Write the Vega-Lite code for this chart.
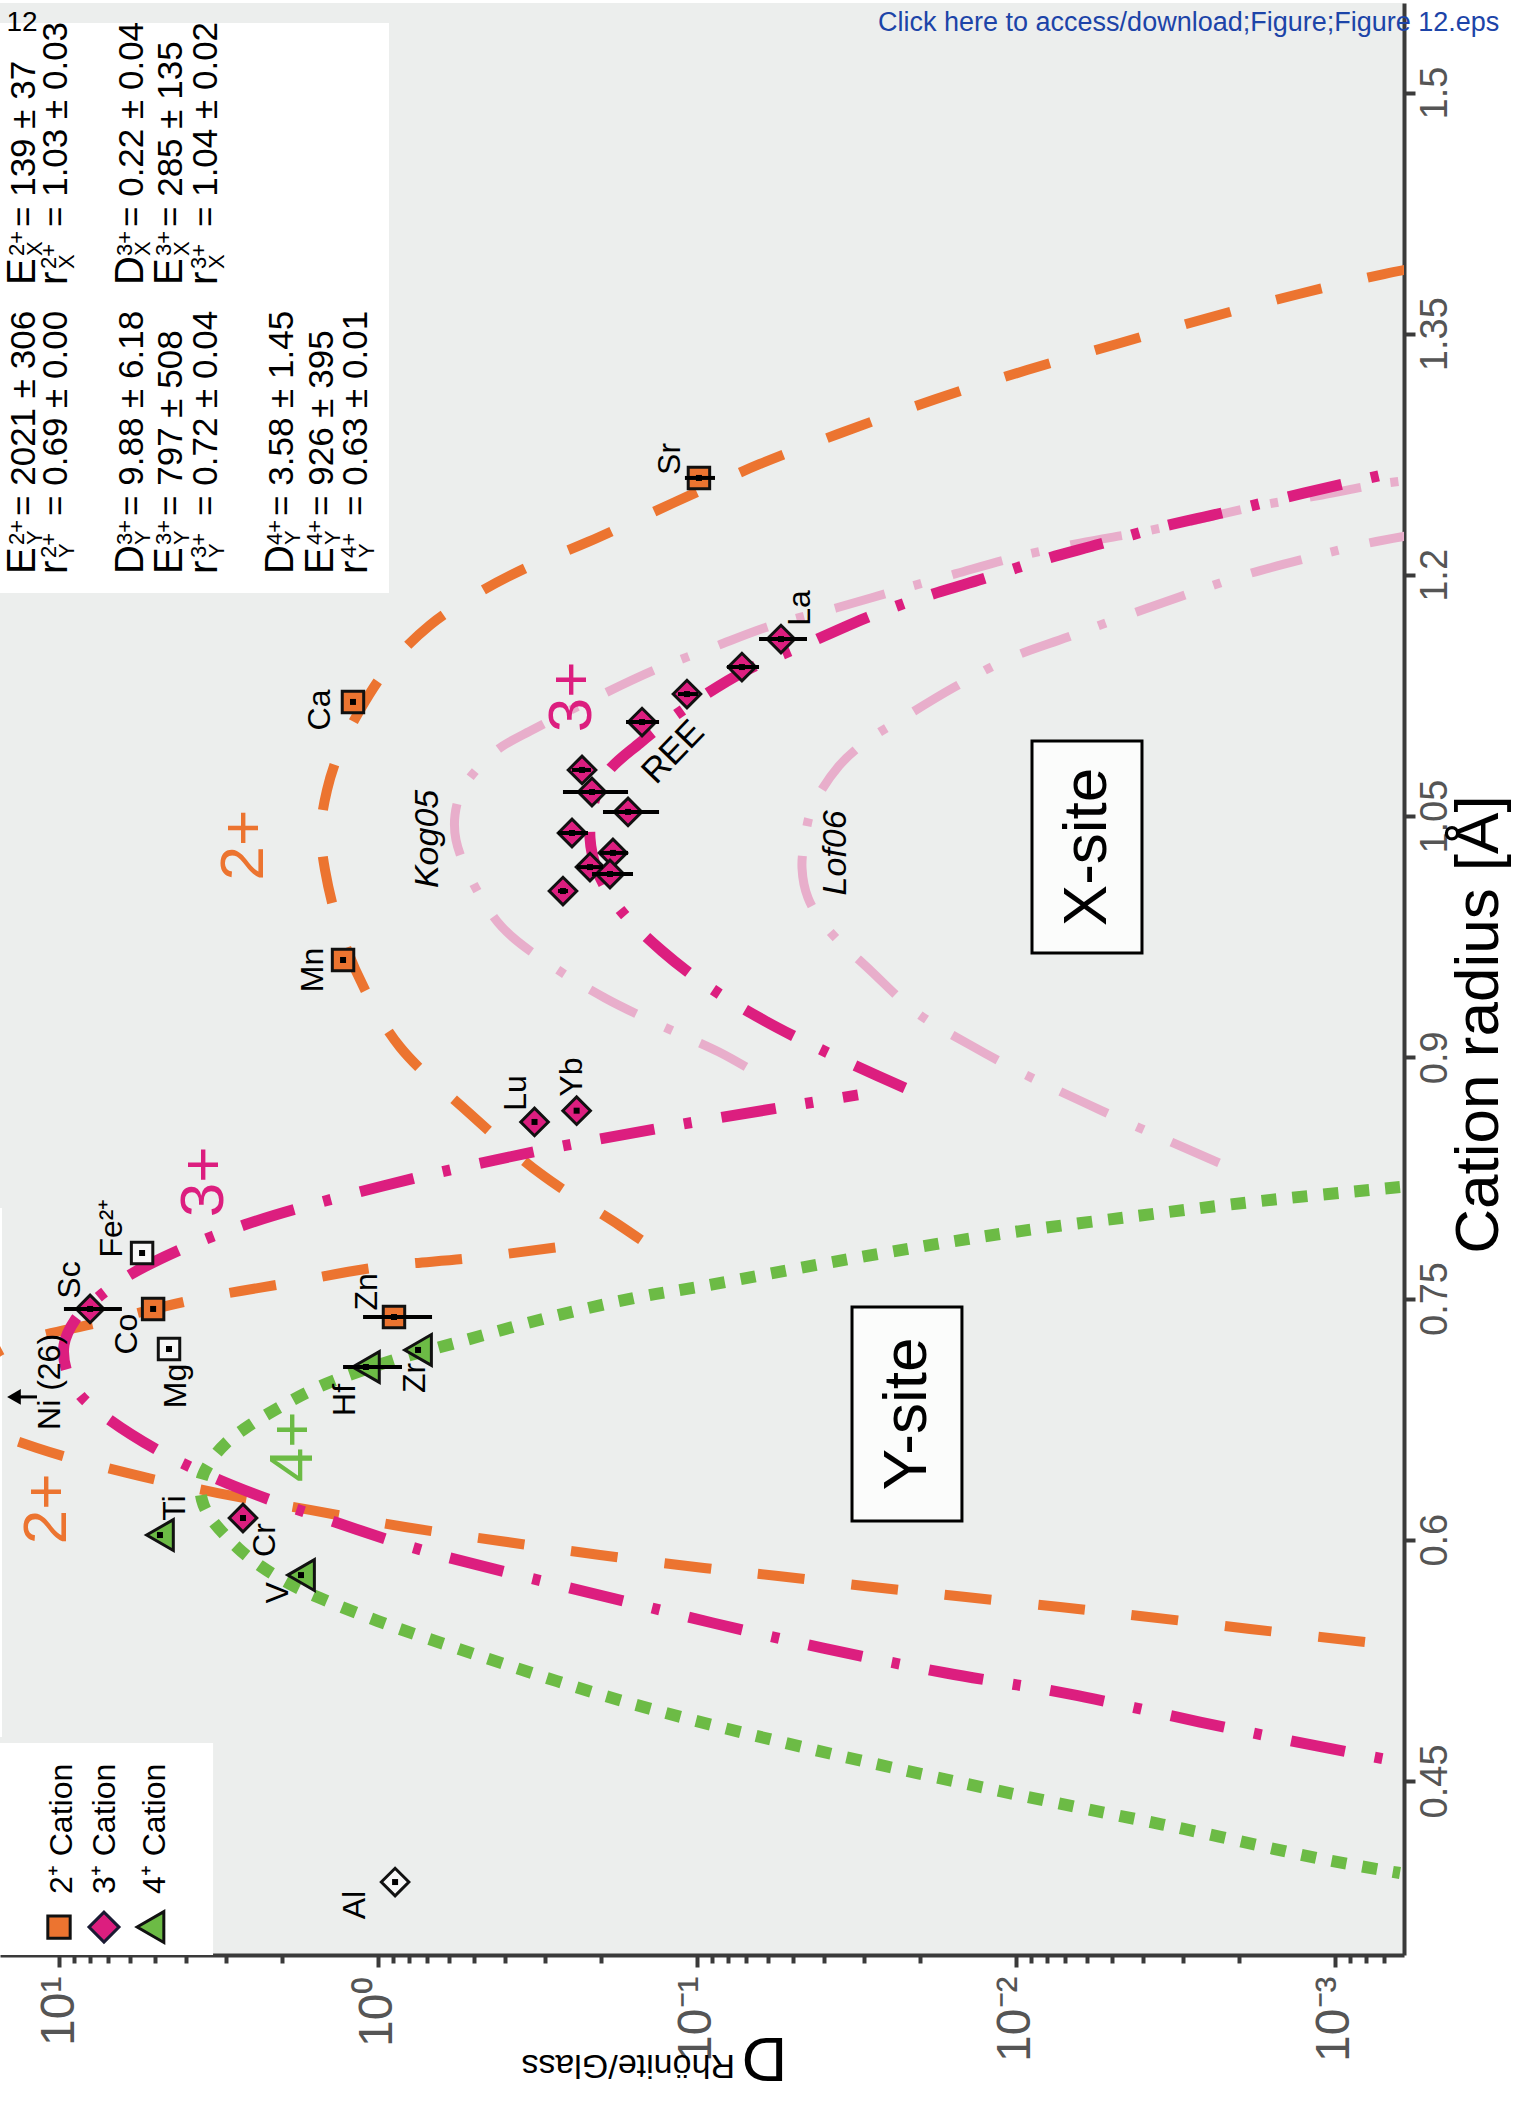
{
"$schema":"https://vega.github.io/schema/vega-lite/v6.json",
"width":1404,"height":1952,
"autosize":{"type":"none"},
"padding":{"left":0,"top":3,"right":122,"bottom":157},
"background":"#ffffff",
"config":{"view":{"fill":"#ECEEED","stroke":null},"font":"Liberation Sans"},
"datasets":{
"boxes":[{"D":20,"D2":0.9237,"r":1.1887,"r2":1.5432},{"D":20,"D2":3.289,"r":0.30,"r2":0.4736},{"D":20,"D2":15.09,"r":0.4773,"r2":0.8063}],
"curves":[
{"s":"2Y","i":0,"D":0.2014,"r":0.7864},{"s":"2Y","i":1,"D":0.2574,"r":0.7827},{"s":"2Y","i":2,"D":0.5074,"r":0.7752},{"s":"2Y","i":3,"D":0.9928,"r":0.7696},{"s":"2Y","i":4,"D":1.929,"r":0.7596},{"s":"2Y","i":5,"D":3.801,"r":0.7491},{"s":"2Y","i":6,"D":7.333,"r":0.7354},{"s":"2Y","i":7,"D":13.54,"r":0.7223},{"s":"2Y","i":8,"D":18.34,"r":0.708},{"s":"2Y","i":9,"D":25.37,"r":0.69},{"s":"2Y","i":10,"D":18.34,"r":0.672},{"s":"2Y","i":11,"D":11.72,"r":0.657},{"s":"2Y","i":12,"D":6.121,"r":0.6415},{"s":"2Y","i":13,"D":3.174,"r":0.629},{"s":"2Y","i":14,"D":1.634,"r":0.6185},{"s":"2Y","i":15,"D":0.823,"r":0.6079},{"s":"2Y","i":16,"D":0.4145,"r":0.5992},{"s":"2Y","i":17,"D":0.2014,"r":0.5905},{"s":"2Y","i":18,"D":0.09508,"r":0.5824},{"s":"2Y","i":19,"D":0.05573,"r":0.5774},{"s":"2Y","i":20,"D":0.02807,"r":0.5706},{"s":"2Y","i":21,"D":0.01435,"r":0.5644},{"s":"2Y","i":22,"D":0.00728,"r":0.5581},{"s":"2Y","i":23,"D":0.004087,"r":0.5526},{"s":"2Y","i":24,"D":0.001847,"r":0.5445},{"s":"2Y","i":25,"D":0.0008054,"r":0.5364},
{"s":"2X","i":0,"D":0.1498,"r":0.7864},{"s":"2X","i":1,"D":0.1756,"r":0.7957},{"s":"2X","i":2,"D":0.3083,"r":0.8274},{"s":"2X","i":3,"D":0.5222,"r":0.866},{"s":"2X","i":4,"D":0.8531,"r":0.9064},{"s":"2X","i":5,"D":1.098,"r":0.9419},{"s":"2X","i":6,"D":1.316,"r":0.9792},{"s":"2X","i":7,"D":1.466,"r":1.0165},{"s":"2X","i":8,"D":1.509,"r":1.0414},{"s":"2X","i":9,"D":1.445,"r":1.0662},{"s":"2X","i":10,"D":1.316,"r":1.0911},{"s":"2X","i":11,"D":1.139,"r":1.116},{"s":"2X","i":12,"D":0.9171,"r":1.144},{"s":"2X","i":13,"D":0.6871,"r":1.1688},{"s":"2X","i":14,"D":0.4789,"r":1.1894},{"s":"2X","i":15,"D":0.3339,"r":1.2055},{"s":"2X","i":16,"D":0.2196,"r":1.2205},{"s":"2X","i":17,"D":0.1189,"r":1.2447},{"s":"2X","i":18,"D":0.06346,"r":1.269},{"s":"2X","i":19,"D":0.03614,"r":1.2876},{"s":"2X","i":20,"D":0.01781,"r":1.3094},{"s":"2X","i":21,"D":0.009237,"r":1.3274},{"s":"2X","i":22,"D":0.004826,"r":1.3436},{"s":"2X","i":23,"D":0.002501,"r":1.3598},{"s":"2X","i":24,"D":0.001297,"r":1.3747},{"s":"2X","i":25,"D":0.0007021,"r":1.3871},{"s":"2X","i":26,"D":0.0005038,"r":1.3927},
{"s":"3Y","i":0,"D":0.03128,"r":0.8766},{"s":"3Y","i":1,"D":0.04894,"r":0.8703},{"s":"3Y","i":2,"D":0.1198,"r":0.8573},{"s":"3Y","i":3,"D":0.2932,"r":0.843},{"s":"3Y","i":4,"D":0.7175,"r":0.8262},{"s":"3Y","i":5,"D":1.718,"r":0.8069},{"s":"3Y","i":6,"D":2.631,"r":0.7957},{"s":"3Y","i":7,"D":4.056,"r":0.7814},{"s":"3Y","i":8,"D":6.077,"r":0.764},{"s":"3Y","i":9,"D":7.711,"r":0.7491},{"s":"3Y","i":10,"D":8.91,"r":0.7366},{"s":"3Y","i":11,"D":9.645,"r":0.7211},{"s":"3Y","i":12,"D":9.438,"r":0.7043},{"s":"3Y","i":13,"D":8.597,"r":0.69},{"s":"3Y","i":14,"D":7.072,"r":0.6757},{"s":"3Y","i":15,"D":4.789,"r":0.6545},{"s":"3Y","i":16,"D":3.197,"r":0.6378},{"s":"3Y","i":17,"D":2.088,"r":0.6234},{"s":"3Y","i":18,"D":1.364,"r":0.611},{"s":"3Y","i":19,"D":0.8845,"r":0.5986},{"s":"3Y","i":20,"D":0.6438,"r":0.5905},{"s":"3Y","i":21,"D":0.2889,"r":0.5731},{"s":"3Y","i":22,"D":0.151,"r":0.5594},{"s":"3Y","i":23,"D":0.0891,"r":0.5482},{"s":"3Y","i":24,"D":0.04055,"r":0.5327},{"s":"3Y","i":25,"D":0.01658,"r":0.5171},{"s":"3Y","i":26,"D":0.006773,"r":0.504},{"s":"3Y","i":27,"D":0.002649,"r":0.4866},{"s":"3Y","i":28,"D":0.001099,"r":0.4711},{"s":"3Y","i":29,"D":0.0006254,"r":0.4618},
{"s":"3X","i":0,"D":0.02228,"r":0.8809},{"s":"3X","i":1,"D":0.02707,"r":0.8884},{"s":"3X","i":2,"D":0.04055,"r":0.9045},{"s":"3X","i":3,"D":0.06118,"r":0.9226},{"s":"3X","i":4,"D":0.08974,"r":0.9425},{"s":"3X","i":5,"D":0.1287,"r":0.9661},{"s":"3X","i":6,"D":0.1768,"r":0.9935},{"s":"3X","i":7,"D":0.2058,"r":1.0165},{"s":"3X","i":8,"D":0.2165,"r":1.0364},{"s":"3X","i":9,"D":0.2118,"r":1.0569},{"s":"3X","i":10,"D":0.1915,"r":1.0768},{"s":"3X","i":11,"D":0.151,"r":1.0955},{"s":"3X","i":12,"D":0.1052,"r":1.1191},{"s":"3X","i":13,"D":0.07073,"r":1.1402},{"s":"3X","i":14,"D":0.04686,"r":1.1558},{"s":"3X","i":15,"D":0.0291,"r":1.1738},{"s":"3X","i":16,"D":0.01999,"r":1.1856},{"s":"3X","i":17,"D":0.01306,"r":1.1968},{"s":"3X","i":18,"D":0.008409,"r":1.2089},{"s":"3X","i":19,"D":0.005453,"r":1.2192},{"s":"3X","i":20,"D":0.003512,"r":1.2298},{"s":"3X","i":21,"D":0.002261,"r":1.2385},{"s":"3X","i":22,"D":0.001455,"r":1.2478},{"s":"3X","i":23,"D":0.0009439,"r":1.2565},{"s":"3X","i":24,"D":0.0005038,"r":1.269},
{"s":"4Y","i":0,"D":0.0006254,"r":0.8193},{"s":"4Y","i":1,"D":0.001718,"r":0.8106},{"s":"4Y","i":2,"D":0.004175,"r":0.8013},{"s":"4Y","i":3,"D":0.01122,"r":0.7901},{"s":"4Y","i":4,"D":0.03196,"r":0.7752},{"s":"4Y","i":5,"D":0.09508,"r":0.7578},{"s":"4Y","i":6,"D":0.152,"r":0.7509},{"s":"4Y","i":7,"D":0.2953,"r":0.7379},{"s":"4Y","i":8,"D":0.5736,"r":0.7223},{"s":"4Y","i":9,"D":0.891,"r":0.7118},{"s":"4Y","i":10,"D":1.335,"r":0.6999},{"s":"4Y","i":11,"D":1.657,"r":0.6919},{"s":"4Y","i":12,"D":2.029,"r":0.6825},{"s":"4Y","i":13,"D":2.519,"r":0.6713},{"s":"4Y","i":14,"D":2.995,"r":0.6601},{"s":"4Y","i":15,"D":3.363,"r":0.6483},{"s":"4Y","i":16,"D":3.588,"r":0.6359},{"s":"4Y","i":17,"D":3.562,"r":0.6247},{"s":"4Y","i":18,"D":3.363,"r":0.6141},{"s":"4Y","i":19,"D":2.748,"r":0.5948},{"s":"4Y","i":20,"D":2.31,"r":0.583},{"s":"4Y","i":21,"D":1.888,"r":0.5725},{"s":"4Y","i":22,"D":1.52,"r":0.5637},{"s":"4Y","i":23,"D":1.0,"r":0.5494},{"s":"4Y","i":24,"D":0.6484,"r":0.5364},{"s":"4Y","i":25,"D":0.1756,"r":0.5003},{"s":"4Y","i":26,"D":0.04391,"r":0.4698},{"s":"4Y","i":27,"D":0.009175,"r":0.44},{"s":"4Y","i":28,"D":0.002974,"r":0.4201},{"s":"4Y","i":29,"D":0.001099,"r":0.4014},{"s":"4Y","i":30,"D":0.0006254,"r":0.3927},
{"s":"Kog05","i":0,"D":0.07022,"r":0.894},{"s":"Kog05","i":1,"D":0.08531,"r":0.9033},{"s":"Kog05","i":2,"D":0.1287,"r":0.9195},{"s":"Kog05","i":3,"D":0.1943,"r":0.9369},{"s":"Kog05","i":4,"D":0.2848,"r":0.9568},{"s":"Kog05","i":5,"D":0.4086,"r":0.981},{"s":"Kog05","i":6,"D":0.5147,"r":1.0121},{"s":"Kog05","i":7,"D":0.5694,"r":1.0351},{"s":"Kog05","i":8,"D":0.5736,"r":1.0507},{"s":"Kog05","i":9,"D":0.5454,"r":1.0662},{"s":"Kog05","i":10,"D":0.4859,"r":1.0799},{"s":"Kog05","i":11,"D":0.4145,"r":1.0924},{"s":"Kog05","i":12,"D":0.3243,"r":1.1042},{"s":"Kog05","i":13,"D":0.2028,"r":1.1247},{"s":"Kog05","i":14,"D":0.1335,"r":1.1415},{"s":"Kog05","i":15,"D":0.08846,"r":1.1552},{"s":"Kog05","i":16,"D":0.05778,"r":1.1688},{"s":"Kog05","i":17,"D":0.03666,"r":1.1794},{"s":"Kog05","i":18,"D":0.02394,"r":1.19},{"s":"Kog05","i":19,"D":0.01553,"r":1.2006},{"s":"Kog05","i":20,"D":0.01,"r":1.2111},{"s":"Kog05","i":21,"D":0.0063,"r":1.2198},{"s":"Kog05","i":22,"D":0.003885,"r":1.2273},{"s":"Kog05","i":23,"D":0.002556,"r":1.2354},{"s":"Kog05","i":24,"D":0.001681,"r":1.2435},{"s":"Kog05","i":25,"D":0.001099,"r":1.2497},{"s":"Kog05","i":26,"D":0.0007226,"r":1.2565},{"s":"Kog05","i":27,"D":0.0005038,"r":1.2603},
{"s":"Lof06","i":0,"D":0.00231,"r":0.8343},{"s":"Lof06","i":1,"D":0.004087,"r":0.856},{"s":"Lof06","i":2,"D":0.006166,"r":0.8722},{"s":"Lof06","i":3,"D":0.009305,"r":0.889},{"s":"Lof06","i":4,"D":0.01394,"r":0.9077},{"s":"Lof06","i":5,"D":0.02043,"r":0.9276},{"s":"Lof06","i":6,"D":0.02848,"r":0.9537},{"s":"Lof06","i":7,"D":0.03941,"r":0.981},{"s":"Lof06","i":8,"D":0.04487,"r":0.9991},{"s":"Lof06","i":9,"D":0.04686,"r":1.0177},{"s":"Lof06","i":10,"D":0.04586,"r":1.0364},{"s":"Lof06","i":11,"D":0.04358,"r":1.055},{"s":"Lof06","i":12,"D":0.03589,"r":1.0812},{"s":"Lof06","i":13,"D":0.0291,"r":1.0973},{"s":"Lof06","i":14,"D":0.0231,"r":1.1098},{"s":"Lof06","i":15,"D":0.01575,"r":1.1297},{"s":"Lof06","i":16,"D":0.01059,"r":1.1477},{"s":"Lof06","i":17,"D":0.006871,"r":1.1614},{"s":"Lof06","i":18,"D":0.004455,"r":1.1751},{"s":"Lof06","i":19,"D":0.002889,"r":1.1881},{"s":"Lof06","i":20,"D":0.001915,"r":1.2},{"s":"Lof06","i":21,"D":0.001215,"r":1.2105},{"s":"Lof06","i":22,"D":0.000782,"r":1.2198},{"s":"Lof06","i":23,"D":0.0005038,"r":1.2267}
],
"pts":[
{"el":"Sc","charge":"3+","fit":"yes","D":7.99,"r":0.7435,"lo":6.35,"hi":9.65},
{"el":"Fe2+","charge":"2+","fit":"no","D":5.49,"r":0.7783},
{"el":"Co","charge":"2+","fit":"yes","D":5.07,"r":0.7435},
{"el":"Mg","charge":"2+","fit":"no","D":4.52,"r":0.7186},
{"el":"Zn","charge":"2+","fit":"yes","D":0.891,"r":0.7385,"lo":0.677,"hi":1.114},
{"el":"Hf","charge":"4+","fit":"yes","D":1.091,"r":0.7074,"lo":0.841,"hi":1.287},
{"el":"Zr","charge":"4+","fit":"yes","D":0.749,"r":0.718},
{"el":"Ti","charge":"4+","fit":"yes","D":4.825,"r":0.6029},
{"el":"V","charge":"4+","fit":"yes","D":1.743,"r":0.578},
{"el":"Cr","charge":"3+","fit":"yes","D":2.65,"r":0.6135},
{"el":"Al","charge":"3+","fit":"no","D":0.884,"r":0.3871},
{"el":"Lu","charge":"3+","fit":"yes","D":0.3231,"r":0.8598},
{"el":"Yb","charge":"3+","fit":"yes","D":0.2384,"r":0.8668},
{"el":"La","charge":"3+","fit":"yes","D":0.05454,"r":1.1601,"lo":0.0452,"hi":0.0639},
{"el":"Ce","charge":"3+","fit":"yes","D":0.0723,"r":1.1427,"lo":0.0639,"hi":0.0805},
{"el":"Pr","charge":"3+","fit":"yes","D":0.1075,"r":1.1259,"lo":0.0993,"hi":0.1147},
{"el":"Nd","charge":"3+","fit":"yes","D":0.1487,"r":1.1085,"lo":0.1315,"hi":0.1669},
{"el":"Sm","charge":"3+","fit":"yes","D":0.2293,"r":1.0787,"lo":0.215,"hi":0.2465},
{"el":"Eu","charge":"3+","fit":"yes","D":0.2134,"r":1.065,"lo":0.1645,"hi":0.2631},
{"el":"Gd","charge":"3+","fit":"yes","D":0.1645,"r":1.0526,"lo":0.1315,"hi":0.1971},
{"el":"Tb","charge":"3+","fit":"yes","D":0.2465,"r":1.0395,"lo":0.2196,"hi":0.2727},
{"el":"Dy","charge":"3+","fit":"yes","D":0.1834,"r":1.0271,"lo":0.1645,"hi":0.2014},
{"el":"Y","charge":"3+","fit":"yes","D":0.2165,"r":1.0183,"lo":0.1971,"hi":0.2377},
{"el":"Ho","charge":"3+","fit":"yes","D":0.1874,"r":1.014,"lo":0.1587,"hi":0.2134},
{"el":"Er","charge":"3+","fit":"yes","D":0.2631,"r":1.0034,"lo":0.2537,"hi":0.2727},
{"el":"Ca","charge":"2+","fit":"yes","D":1.198,"r":1.121},
{"el":"Mn","charge":"2+","fit":"yes","D":1.287,"r":0.9605},
{"el":"Sr","charge":"2+","fit":"yes","D":0.0986,"r":1.2603,"lo":0.0878,"hi":0.1091}
],
"arrow":[{"D":11.72,"D2":13.84,"r":0.6888}],
"labels":[
{"t":"Sc","g":"el","D":9.238,"r":0.7615},{"t":"Fe²⁺","g":"el","D":6.823,"r":0.7938},{"t":"Co","g":"el","D":6.121,"r":0.7279},{"t":"Mg","g":"el","D":4.298,"r":0.6956},{"t":"Ni (26)","g":"el","D":10.67,"r":0.6981},{"t":"Zn","g":"el","D":1.083,"r":0.7541},{"t":"Hf","g":"el","D":1.269,"r":0.6869},{"t":"Zr","g":"el","D":0.7656,"r":0.7006},{"t":"Ti","g":"el","D":4.329,"r":0.6197},{"t":"Cr","g":"el","D":2.261,"r":0.5998},{"t":"V","g":"el","D":2.058,"r":0.5669},{"t":"Al","g":"el","D":1.181,"r":0.3728},{"t":"Lu","g":"el","D":0.3693,"r":0.8778},{"t":"Yb","g":"el","D":0.2465,"r":0.8877},{"t":"La","g":"el","D":0.04754,"r":1.1794},{"t":"Sr","g":"el","D":0.1215,"r":1.2721},{"t":"Ca","g":"el","D":1.52,"r":1.116},{"t":"Mn","g":"el","D":1.599,"r":0.9543},
{"t":"3+","g":"q","c":"3+","D":0.2465,"r":1.1241},{"t":"2+","g":"q","c":"2+","D":2.631,"r":1.032},{"t":"3+","g":"q","c":"3+","D":3.512,"r":0.8225},{"t":"2+","g":"q","c":"2+","D":10.9,"r":0.6191},{"t":"4+","g":"q","c":"4+","D":1.847,"r":0.6577},
{"t":"Kog05","g":"ref","D":0.697,"r":1.0358},{"t":"Lof06","g":"ref","D":0.03666,"r":1.0271},
{"t":"REE","g":"ree","D":0.1189,"r":1.0899}
],
"sites":[{"t":"X-site","D":0.00599,"r":1.0308,"D1":0.008908,"D2":0.004027,"r1":1.0967,"r2":0.9649},{"t":"Y-site","D":0.02196,"r":0.6782,"D1":0.03266,"D2":0.01477,"r1":0.7447,"r2":0.6116}],
"params":[
{"sym":"E","sup":"2+","sub":"Y","val":"= 2021 ± 306","D":11.89,"r":1.2006},
{"sym":"E","sup":"2+","sub":"X","val":"= 139 ± 37","D":11.89,"r":1.3803},
{"sym":"r","sup":"2+","sub":"Y","val":"= 0.69 ± 0.00","D":9.439,"r":1.2006},
{"sym":"r","sup":"2+","sub":"X","val":"= 1.03 ± 0.03","D":9.439,"r":1.3803},
{"sym":"D","sup":"3+","sub":"Y","val":"= 9.88 ± 6.18","D":5.453,"r":1.2006},
{"sym":"D","sup":"3+","sub":"X","val":"= 0.22 ± 0.04","D":5.453,"r":1.3803},
{"sym":"E","sup":"3+","sub":"Y","val":"= 797 ± 508","D":4.116,"r":1.2006},
{"sym":"E","sup":"3+","sub":"X","val":"= 285 ± 135","D":4.116,"r":1.3803},
{"sym":"r","sup":"3+","sub":"Y","val":"= 0.72 ± 0.04","D":3.197,"r":1.2006},
{"sym":"r","sup":"3+","sub":"X","val":"= 1.04 ± 0.02","D":3.197,"r":1.3803},
{"sym":"D","sup":"4+","sub":"Y","val":"= 3.58 ± 1.45","D":1.847,"r":1.2006},
{"sym":"E","sup":"4+","sub":"Y","val":"= 926 ± 395","D":1.384,"r":1.2006},
{"sym":"r","sup":"4+","sub":"Y","val":"= 0.63 ± 0.01","D":1.083,"r":1.2006}
],
"legSym":[{"charge":"2+","D":10.0,"r":0.3591},{"charge":"3+","D":7.228,"r":0.3591},{"charge":"4+","D":5.167,"r":0.3591}],
"legTxt":[{"t":"2⁺ Cation","D":9.106,"r":0.3797},{"t":"3⁺ Cation","D":6.675,"r":0.3797},{"t":"4⁺ Cation","D":4.653,"r":0.3797}],
"misc":[{"t":"12","k":"num","D":13.06,"r":1.5432},{"t":"Click here to access/download;Figure;Figure 12.eps","k":"link","D":0.02707,"r":1.5382},{"t":"Rhönite/Glass","k":"sub","D":0.07603,"r":0.2795}]
},
"encoding":{
"x":{"field":"D","type":"quantitative","scale":{"type":"log","domain":[0.0006076,15.31],"reverse":true,"nice":false},
 "axis":{"title":"D","orient":"bottom","grid":false,
  "values":[10,9,8,7,6,5,4,3,2,1,0.9,0.8,0.7,0.6,0.5,0.4,0.3,0.2,0.1,0.09,0.08,0.07,0.06,0.05,0.04,0.03,0.02,0.01,0.009,0.008,0.007,0.006,0.005,0.004,0.003,0.002,0.001,0.0009,0.0008,0.0007],
  "labelExpr":"datum.value == 10 ? '10¹' : datum.value == 1 ? '10⁰' : datum.value == 0.1 ? '10⁻¹' : datum.value == 0.01 ? '10⁻²' : datum.value == 0.001 ? '10⁻³' : ''",
  "labelAngle":270,"labelAlign":"right","labelBaseline":"middle","labelPadding":9,"labelFont":"Liberation Sans Narrow, Liberation Sans","labelFontSize":48,"labelColor":"#555555","labelOverlap":false,"labelBound":false,"labelFlush":false,
  "tickSize":{"condition":{"test":"datum.value == 10 || datum.value == 1 || datum.value == 0.1 || datum.value == 0.01 || datum.value == 0.001","value":12},"value":8},
  "tickWidth":4,"tickColor":"#3a3a3a","domainColor":"#3a3a3a","domainWidth":4,
  "titleFont":"Liberation Sans","titleFontSize":63,"titleFontWeight":"normal","titleColor":"#000000","titleAngle":180,"titleX":764,"titleY":82,"titleAlign":"center","titleBaseline":"alphabetic"}},
"y":{"field":"r","type":"quantitative","scale":{"domain":[0.34173,1.55566],"nice":false,"zero":false},
 "axis":{"title":"Cation radius [Å]","orient":"right","grid":false,
  "values":[0.45,0.6,0.75,0.9,1.05,1.2,1.35,1.5],"labelExpr":"'' + datum.value",
  "labelAngle":270,"labelAlign":"center","labelBaseline":"top","labelPadding":1,"labelFont":"Liberation Sans","labelFontSize":38,"labelColor":"#555555","labelOverlap":false,"labelBound":false,"labelFlush":false,
  "tickSize":11,"tickWidth":4,"tickColor":"#3a3a3a","domainColor":"#3a3a3a","domainWidth":4,
  "titleFont":"Liberation Sans","titleFontSize":62,"titleFontWeight":"normal","titleColor":"#000000","titleAngle":270,"titleX":93,"titleY":1021,"titleAlign":"center","titleBaseline":"alphabetic"}}
},
"layer":[
{"data":{"name":"boxes"},"mark":{"type":"rect","fill":"#ffffff","clip":true},"encoding":{"x2":{"field":"D2"},"y2":{"field":"r2"}}},
{"data":{"name":"curves"},"transform":[{"filter":"datum.s === 'Kog05' || datum.s === 'Lof06'"}],"mark":{"type":"line","clip":true,"interpolate":"catmull-rom","stroke":"#E8AECB","strokeWidth":9,"strokeDash":[52,30,8,32],"strokeCap":"butt"},"encoding":{"detail":{"field":"s"},"order":{"field":"i","type":"quantitative"}}},
{"data":{"name":"curves"},"transform":[{"filter":"datum.s === '2Y'"}],"mark":{"type":"line","clip":true,"interpolate":"catmull-rom","stroke":"#EC7430","strokeWidth":10,"strokeDash":[47,47],"strokeCap":"butt"},"encoding":{"order":{"field":"i","type":"quantitative","sort":"descending"}}},
{"data":{"name":"curves"},"transform":[{"filter":"datum.s === '2X'"}],"mark":{"type":"line","clip":true,"interpolate":"catmull-rom","stroke":"#EC7430","strokeWidth":10,"strokeDash":[47,47],"strokeCap":"butt"},"encoding":{"order":{"field":"i","type":"quantitative"}}},
{"data":{"name":"curves"},"transform":[{"filter":"datum.s === '3Y'"}],"mark":{"type":"line","clip":true,"interpolate":"catmull-rom","stroke":"#DC1E7F","strokeWidth":11,"strokeDash":[55,30,8,30],"strokeDashOffset":67,"strokeCap":"butt"},"encoding":{"order":{"field":"i","type":"quantitative","sort":"descending"}}},
{"data":{"name":"curves"},"transform":[{"filter":"datum.s === '3X'"}],"mark":{"type":"line","clip":true,"interpolate":"catmull-rom","stroke":"#DC1E7F","strokeWidth":11,"strokeDash":[55,30,8,30],"strokeCap":"butt"},"encoding":{"order":{"field":"i","type":"quantitative"}}},
{"data":{"name":"curves"},"transform":[{"filter":"datum.s === '4Y'"}],"mark":{"type":"line","clip":true,"interpolate":"catmull-rom","stroke":"#6CBB45","strokeWidth":12,"strokeDash":[15,16],"strokeCap":"butt"},"encoding":{"order":{"field":"i","type":"quantitative"}}},
{"data":{"name":"pts"},"transform":[{"filter":"datum.charge === '2+'"}],"mark":{"type":"point","shape":"square","size":460,"filled":true,"stroke":"#111111","strokeWidth":3,"opacity":1},"encoding":{"fill":{"condition":{"test":"datum.fit === 'no'","value":"#f7f7f7"},"value":"#EC7430"}}},
{"data":{"name":"pts"},"transform":[{"filter":"datum.charge === '3+'"}],"mark":{"type":"point","shape":"diamond","size":760,"filled":true,"stroke":"#111111","strokeWidth":3,"opacity":1},"encoding":{"fill":{"condition":{"test":"datum.fit === 'no'","value":"#f7f7f7"},"value":"#DC1E7F"}}},
{"data":{"name":"pts"},"transform":[{"filter":"datum.charge === '4+'"}],"mark":{"type":"point","shape":"triangle-left","size":950,"filled":true,"stroke":"#111111","strokeWidth":3,"opacity":1},"encoding":{"fill":{"condition":{"test":"datum.fit === 'no'","value":"#f7f7f7"},"value":"#6CBB45"}}},
{"data":{"name":"pts"},"mark":{"type":"point","shape":"square","size":36,"filled":true,"color":"#000000","opacity":1}},
{"data":{"name":"pts"},"transform":[{"filter":"isValid(datum.lo)"}],"mark":{"type":"rule","color":"#000000","strokeWidth":4},"encoding":{"x":{"field":"lo","type":"quantitative"},"x2":{"field":"hi"}}},
{"data":{"name":"arrow"},"mark":{"type":"rule","color":"#000000","strokeWidth":3},"encoding":{"x2":{"field":"D2"}}},
{"data":{"name":"arrow"},"mark":{"type":"point","shape":"triangle-left","size":250,"filled":true,"color":"#000000","opacity":1},"encoding":{"x":{"field":"D2","type":"quantitative"}}},
{"data":{"name":"labels"},"transform":[{"filter":"datum.g === 'el'"}],"mark":{"type":"text","angle":270,"align":"center","baseline":"middle","fontSize":32,"font":"Liberation Sans","color":"#000000"},"encoding":{"text":{"field":"t"}}},
{"data":{"name":"labels"},"transform":[{"filter":"datum.g === 'q'"}],"mark":{"type":"text","angle":270,"align":"center","baseline":"middle","fontSize":62,"font":"Liberation Sans"},"encoding":{"text":{"field":"t"},"color":{"field":"c","type":"nominal","scale":{"domain":["2+","3+","4+"],"range":["#EC7430","#DC1E7F","#6CBB45"]},"legend":null}}},
{"data":{"name":"labels"},"transform":[{"filter":"datum.g === 'ref'"}],"mark":{"type":"text","angle":270,"align":"center","baseline":"middle","fontSize":34,"fontStyle":"italic","font":"Liberation Sans","color":"#000000"},"encoding":{"text":{"field":"t"}}},
{"data":{"name":"labels"},"transform":[{"filter":"datum.g === 'ree'"}],"mark":{"type":"text","angle":314,"align":"center","baseline":"middle","fontSize":35,"font":"Liberation Sans","color":"#000000"},"encoding":{"text":{"field":"t"}}},
{"data":{"name":"sites"},"mark":{"type":"rect","fill":"#fbfcfb","stroke":"#000000","strokeWidth":3},"encoding":{"x":{"field":"D1","type":"quantitative"},"x2":{"field":"D2"},"y":{"field":"r1","type":"quantitative"},"y2":{"field":"r2"}}},
{"data":{"name":"sites"},"mark":{"type":"text","angle":270,"align":"center","baseline":"middle","fontSize":62,"font":"Liberation Sans","color":"#000000"},"encoding":{"text":{"field":"t"}}},
{"data":{"name":"params"},"mark":{"type":"text","angle":270,"align":"left","baseline":"alphabetic","fontSize":40,"font":"Liberation Sans","color":"#000000"},"encoding":{"text":{"field":"sym"}}},
{"data":{"name":"params"},"transform":[{"filter":"datum.sym !== 'r'"}],"mark":{"type":"text","angle":270,"align":"left","baseline":"alphabetic","fontSize":22,"dx":29,"dy":-11,"font":"Liberation Sans","color":"#000000"},"encoding":{"text":{"field":"sup"}}},
{"data":{"name":"params"},"transform":[{"filter":"datum.sym === 'r'"}],"mark":{"type":"text","angle":270,"align":"left","baseline":"alphabetic","fontSize":22,"dx":16,"dy":-11,"font":"Liberation Sans","color":"#000000"},"encoding":{"text":{"field":"sup"}}},
{"data":{"name":"params"},"transform":[{"filter":"datum.sym !== 'r'"}],"mark":{"type":"text","angle":270,"align":"left","baseline":"alphabetic","fontSize":22,"dx":29,"dy":7,"font":"Liberation Sans","color":"#000000"},"encoding":{"text":{"field":"sub"}}},
{"data":{"name":"params"},"transform":[{"filter":"datum.sym === 'r'"}],"mark":{"type":"text","angle":270,"align":"left","baseline":"alphabetic","fontSize":22,"dx":16,"dy":7,"font":"Liberation Sans","color":"#000000"},"encoding":{"text":{"field":"sub"}}},
{"data":{"name":"params"},"mark":{"type":"text","angle":270,"align":"left","baseline":"alphabetic","fontSize":35,"dx":58,"font":"Liberation Sans","color":"#000000"},"encoding":{"text":{"field":"val"}}},
{"data":{"name":"legSym"},"transform":[{"filter":"datum.charge === '2+'"}],"mark":{"type":"point","shape":"square","size":500,"filled":true,"fill":"#EC7430","stroke":"#111111","strokeWidth":3,"opacity":1}},
{"data":{"name":"legSym"},"transform":[{"filter":"datum.charge === '3+'"}],"mark":{"type":"point","shape":"diamond","size":900,"filled":true,"fill":"#DC1E7F","stroke":"#1a1a33","strokeWidth":3,"opacity":1}},
{"data":{"name":"legSym"},"transform":[{"filter":"datum.charge === '4+'"}],"mark":{"type":"point","shape":"triangle-left","size":950,"filled":true,"fill":"#6CBB45","stroke":"#111111","strokeWidth":3,"opacity":1}},
{"data":{"name":"legTxt"},"mark":{"type":"text","angle":270,"align":"left","baseline":"alphabetic","fontSize":32,"font":"Liberation Sans","color":"#000000"},"encoding":{"text":{"field":"t"}}},
{"data":{"name":"misc"},"transform":[{"filter":"datum.k === 'num'"}],"mark":{"type":"text","align":"center","baseline":"middle","fontSize":28,"font":"Liberation Sans","color":"#000000"},"encoding":{"text":{"field":"t"}}},
{"data":{"name":"misc"},"transform":[{"filter":"datum.k === 'link'"}],"mark":{"type":"text","align":"left","baseline":"alphabetic","fontSize":27,"font":"Liberation Sans","color":"#1C44A8"},"encoding":{"text":{"field":"t"}}},
{"data":{"name":"misc"},"transform":[{"filter":"datum.k === 'sub'"}],"mark":{"type":"text","angle":180,"align":"left","baseline":"alphabetic","fontSize":34,"font":"Liberation Sans","color":"#000000"},"encoding":{"text":{"field":"t"}}},
{"data":{"values":[{"k":"frame"}]},"mark":{"type":"rule","color":"#3a3a3a","strokeWidth":4,"clip":false},"encoding":{"x":{"datum":15.31,"type":"quantitative"},"x2":{"datum":0.0006076},"y":{"datum":1.5566,"type":"quantitative"}}}
]
}
